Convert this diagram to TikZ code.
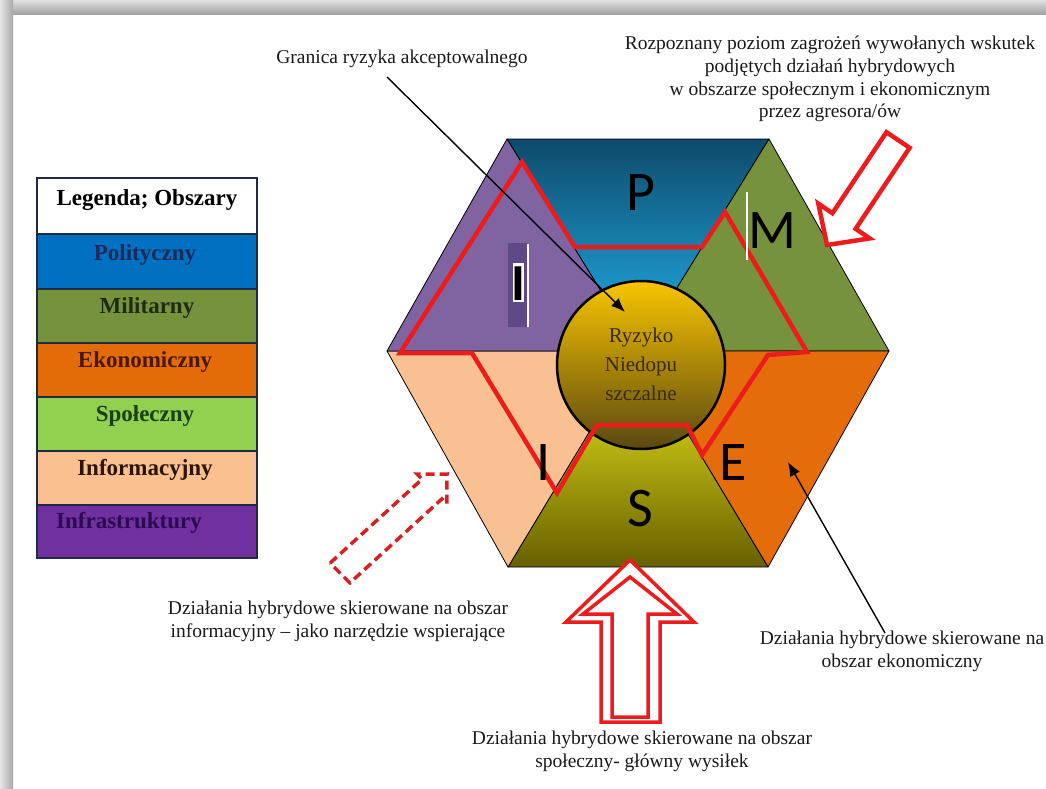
\documentclass[tikz,border=0pt]{standalone}
\usepackage{fontspec}
\setmainfont{Liberation Serif}
\newfontfamily\sansf{Carlito}
\usetikzlibrary{arrows.meta}
\definecolor{redC}{HTML}{EC1C1C}
\definecolor{redD}{HTML}{D42222}
\definecolor{textC}{HTML}{1A1A1A}
\definecolor{legB}{HTML}{1D2B45}
\definecolor{cPol}{HTML}{0070C0}
\definecolor{cMil}{HTML}{76923C}
\definecolor{cEko}{HTML}{E36C09}
\definecolor{cSpo}{HTML}{92D050}
\definecolor{cInf}{HTML}{FAC08F}
\definecolor{cInfra}{HTML}{7030A0}
\definecolor{hPurple}{HTML}{8064A2}
\definecolor{hPurpleD}{HTML}{5E4A86}
\definecolor{hGreen}{HTML}{76923C}
\definecolor{hOrange}{HTML}{E46C0A}
\definecolor{hPeach}{HTML}{F9C091}
\definecolor{pTop}{HTML}{0E4A6C}
\definecolor{pBot}{HTML}{22B4EE}
\definecolor{sTop}{HTML}{F6F21E}
\definecolor{sBot}{HTML}{666000}
\definecolor{oTop}{HTML}{F8C400}
\definecolor{oMid}{HTML}{D0A00A}
\definecolor{oBot}{HTML}{5A4812}
\definecolor{tPol}{HTML}{1C2A5A}
\definecolor{tMil}{HTML}{1F2A10}
\definecolor{tEko}{HTML}{4A1808}
\definecolor{tSpo}{HTML}{1A4018}
\definecolor{tInf}{HTML}{2A1408}
\definecolor{tInfra}{HTML}{2C0A50}
\definecolor{tRisk}{HTML}{3A2A10}
\begin{document}
\begin{tikzpicture}[x=1pt,y=-1pt,
  tri/.style={draw=black, line width=0.8pt, line join=round},
  redline/.style={draw=redC, line width=4.5pt, line join=miter},
  blockarrow/.style={draw=redC, line width=4.5pt, fill=white, line join=miter},
  thinblock/.style={draw=redC, line width=3.5pt, line join=miter},
  dasharrow/.style={draw=redD, line width=3.5pt, dash pattern=on 9pt off 5pt, line join=miter},
  ptr/.style={draw=black, line width=1.4pt, -{Latex[length=14pt,width=11pt]}},
  captxt/.style={font=\fontsize{19.5}{22.7}\selectfont, align=center, text=textC, inner sep=0pt},
  legbox/.style={draw=legB, line width=2pt, minimum width=220pt, inner sep=0pt},
  legtext/.style={font=\fontsize{23}{26}\selectfont\bfseries, inner sep=0pt, anchor=base},
  bigltr/.style={font=\sansf\fontsize{56}{56}\selectfont, inner sep=0pt, anchor=base},
]
\clip (0,0) rectangle (1046,789);
\fill[white] (0,0) rectangle (1046,789);
% page frame shadow
\shade[top color=black!12, bottom color=black!38] (0,0) rectangle (1046,15);
\shade[left color=black!10, right color=black!34] (0,0) rectangle (13,789);

% hexagon vertices
\coordinate (TL) at (507,139);
\coordinate (TR) at (769,139);
\coordinate (R)  at (889,351);
\coordinate (BR) at (768,567);
\coordinate (BL) at (508,567);
\coordinate (L)  at (387,351);
\coordinate (C)  at (638,351);

\shade[top color=pTop, bottom color=pBot] (TL) -- (TR) -- (C) -- cycle;
\draw[tri] (TL) -- (TR) -- (C) -- cycle;
\fill[hGreen] (TR) -- (R) -- (C) -- cycle;
\draw[tri] (TR) -- (R) -- (C) -- cycle;
\fill[hOrange] (R) -- (BR) -- (C) -- cycle;
\draw[tri] (R) -- (BR) -- (C) -- cycle;
\shade[top color=sTop, bottom color=sBot] (BR) -- (BL) -- (C) -- cycle;
\draw[tri] (BR) -- (BL) -- (C) -- cycle;
\fill[hPeach] (BL) -- (L) -- (C) -- cycle;
\draw[tri] (BL) -- (L) -- (C) -- cycle;
\fill[hPurple] (L) -- (TL) -- (C) -- cycle;
\draw[tri] (L) -- (TL) -- (C) -- cycle;

% central circle
\node[circle, draw=black, line width=2.5pt, minimum size=168pt, inner sep=0pt,
  top color=oTop, middle color=oMid, bottom color=oBot] (risk) at (641,365) {};
\node[font=\fontsize{21}{29}\selectfont, align=center, text=tRisk, inner sep=0pt]
  (risktext) at (641,364) {Ryzyko\\Niedopu\\szczalne};

% red boundary of acceptable risk
\draw[redline] (522,162) -- (575,247) -- (702,247) -- (725,212) -- (807,352)
  -- (768,355) -- (702,455) -- (687,425) -- (597,425) -- (557,493)
  -- (472,353) -- (400,353) -- cycle;

% letters
\node[bigltr] (lP) at (641,210) {P};
\draw[white, line width=1.2pt] (747,192) -- (747,260);
\node[bigltr] (lM) at (772,248) {M};
\fill[hPurpleD] (508,243) rectangle (528,327);
\draw[white, line width=1.2pt] (528,244) -- (528,327);
\fill[white] (513,263) rectangle (524,301.5);
\node[font=\sansf\bfseries\fontsize{52}{52}\selectfont, inner sep=0pt, anchor=base] (lI1) at (518.5,300) {I};
\node[bigltr] (lI2) at (544,480) {I};
\node[bigltr] (lE) at (733,480) {E};
\node[bigltr] (lS) at (640,526) {S};

% block arrows
\draw[blockarrow] (886.4,132.2) -- (832.4,213.2) -- (818.3,203.6) -- (827,245)
  -- (869.7,238.4) -- (855.6,228.8) -- (909.6,147.8) -- cycle;
\draw[thinblock, fill=white] (601,722) -- (601,622) -- (566,622) -- (630,560) -- (694,622)
  -- (660,622) -- (660,722) -- cycle;
\draw[thinblock] (612,717) -- (612,614) -- (583,614) -- (630,577) -- (677,614)
  -- (648,614) -- (648,717) -- cycle;
\draw[dasharrow] (330.1,563.1) -- (422.1,479.1) -- (417.2,474.2) -- (447,474)
  -- (446.8,503.8) -- (441.9,498.9) -- (349.9,582.9) -- cycle;

% captions
\node[captxt] (tGran) at (402,59) {Granica ryzyka akceptowalnego};
\node[captxt] (tTop) at (830,79) {Rozpoznany poziom zagrożeń wywołanych wskutek\\podjętych działań hybrydowych\\w obszarze społecznym i ekonomicznym\\przez agresora/ów};
\node[captxt] (tInf) at (338,621) {Działania hybrydowe skierowane na obszar\\informacyjny – jako narzędzie wspierające};
\node[captxt] (tEko) at (902,651) {Działania hybrydowe skierowane na\\obszar ekonomiczny};
\node[captxt] (tSpo) at (642,751) {Działania hybrydowe skierowane na obszar\\społeczny- główny wysiłek};

% pointer arrows
\coordinate (gStart) at (387,77);
\coordinate (gEnd) at (625,312);
\draw[ptr] (gStart) -- (gEnd);
\coordinate (eStart) at (885,633);
\coordinate (eEnd) at (788,462);
\draw[ptr] (eStart) -- (eEnd);

% legend
\node[legbox, minimum height=56pt, fill=white] (lgH) at (147,206) {};
\node[legbox, minimum height=55pt, fill=cPol] (lg1) at (147,261.5) {};
\node[legbox, minimum height=54pt, fill=cMil] (lg2) at (147,316) {};
\node[legbox, minimum height=54pt, fill=cEko] (lg3) at (147,370) {};
\node[legbox, minimum height=54pt, fill=cSpo] (lg4) at (147,424) {};
\node[legbox, minimum height=54pt, fill=cInf] (lg5) at (147,478) {};
\node[legbox, minimum height=53pt, fill=cInfra] (lg6) at (147,531.5) {};
\node[legtext, text=black] (ltH) at (147,205) {Legenda; Obszary};
\node[legtext, text=tPol] (lt1) at (145,260) {Polityczny};
\node[legtext, text=tMil] (lt2) at (147,313) {Militarny};
\node[legtext, text=tEko] (lt3) at (145,367) {Ekonomiczny};
\node[legtext, text=tSpo] (lt4) at (145,421) {Społeczny};
\node[legtext, text=tInf] (lt5) at (145,475) {Informacyjny};
\node[legtext, text=tInfra] (lt6) at (129,528) {Infrastruktury};
\end{tikzpicture}
\end{document}
